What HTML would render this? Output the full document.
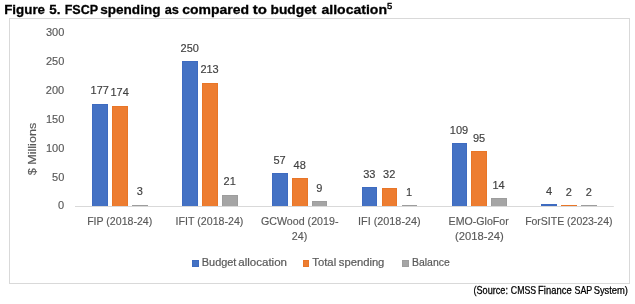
<!DOCTYPE html>
<html><head><meta charset="utf-8"><style>
html,body{margin:0;padding:0;background:#fff;width:635px;height:304px;overflow:hidden;position:relative}
</style></head><body>
<svg width="635" height="304" viewBox="0 0 635 304" style="position:absolute;left:0;top:0;will-change:transform">
<rect x="9.5" y="18.5" width="620" height="265" fill="#FFFFFF" stroke="#D9D9D9" stroke-width="1"/>
<line x1="75.0" y1="206.5" x2="613.80" y2="206.5" stroke="#D9D9D9" stroke-width="1"/>
<rect x="92" y="104" width="16" height="102" fill="#3E6BC0"/>
<rect x="93" y="105" width="14" height="101" fill="#4472C4"/>
<rect x="112" y="106" width="16" height="100" fill="#E87628"/>
<rect x="113" y="107" width="14" height="99" fill="#ED7D31"/>
<rect x="132" y="205" width="16" height="1" fill="#9D9D9D"/>
<rect x="182" y="61" width="16" height="145" fill="#3E6BC0"/>
<rect x="183" y="62" width="14" height="144" fill="#4472C4"/>
<rect x="202" y="83" width="16" height="123" fill="#E87628"/>
<rect x="203" y="84" width="14" height="122" fill="#ED7D31"/>
<rect x="222" y="195" width="16" height="11" fill="#9D9D9D"/>
<rect x="223" y="196" width="14" height="10" fill="#A5A5A5"/>
<rect x="272" y="173" width="16" height="33" fill="#3E6BC0"/>
<rect x="273" y="174" width="14" height="32" fill="#4472C4"/>
<rect x="292" y="178" width="16" height="28" fill="#E87628"/>
<rect x="293" y="179" width="14" height="27" fill="#ED7D31"/>
<rect x="312" y="201" width="15" height="5" fill="#9D9D9D"/>
<rect x="313" y="202" width="13" height="4" fill="#A5A5A5"/>
<rect x="362" y="187" width="15" height="19" fill="#3E6BC0"/>
<rect x="363" y="188" width="13" height="18" fill="#4472C4"/>
<rect x="382" y="188" width="15" height="18" fill="#E87628"/>
<rect x="383" y="189" width="13" height="17" fill="#ED7D31"/>
<rect x="402" y="205" width="15" height="1" fill="#9D9D9D"/>
<rect x="452" y="143" width="15" height="63" fill="#3E6BC0"/>
<rect x="453" y="144" width="13" height="62" fill="#4472C4"/>
<rect x="471" y="151" width="16" height="55" fill="#E87628"/>
<rect x="472" y="152" width="14" height="54" fill="#ED7D31"/>
<rect x="491" y="198" width="16" height="8" fill="#9D9D9D"/>
<rect x="492" y="199" width="14" height="7" fill="#A5A5A5"/>
<rect x="541" y="204" width="16" height="2" fill="#3E6BC0"/>
<rect x="561" y="205" width="16" height="1" fill="#E87628"/>
<rect x="581" y="205" width="16" height="1" fill="#9D9D9D"/>
<rect x="192" y="260" width="7" height="7" fill="#3E6BC0"/>
<rect x="193" y="261" width="5" height="5" fill="#4472C4"/>
<rect x="303" y="260" width="6" height="7" fill="#E87628"/>
<rect x="304" y="261" width="4" height="5" fill="#ED7D31"/>
<rect x="402" y="260" width="7" height="7" fill="#9D9D9D"/>
<rect x="403" y="261" width="5" height="5" fill="#A5A5A5"/>
<text transform="translate(4.144,13.60) scale(0.9917,1)" style='font-family:"Liberation Sans", sans-serif;font-size:13.5px;font-weight:bold;stroke:#000;stroke-width:0.3px' fill="#000">Figure</text>
<text transform="translate(49.356,13.60) scale(0.9950,1)" style='font-family:"Liberation Sans", sans-serif;font-size:13.5px;font-weight:bold;stroke:#000;stroke-width:0.3px' fill="#000">5.</text>
<text transform="translate(64.637,13.60) scale(0.9283,1)" style='font-family:"Liberation Sans", sans-serif;font-size:13.5px;font-weight:bold;stroke:#000;stroke-width:0.3px' fill="#000">FSCP</text>
<text transform="translate(100.163,13.60) scale(1.0063,1)" style='font-family:"Liberation Sans", sans-serif;font-size:13.5px;font-weight:bold;stroke:#000;stroke-width:0.3px' fill="#000">spending</text>
<text transform="translate(164.763,13.60) scale(0.9440,1)" style='font-family:"Liberation Sans", sans-serif;font-size:13.5px;font-weight:bold;stroke:#000;stroke-width:0.3px' fill="#000">as</text>
<text transform="translate(182.137,13.60) scale(1.0365,1)" style='font-family:"Liberation Sans", sans-serif;font-size:13.5px;font-weight:bold;stroke:#000;stroke-width:0.3px' fill="#000">compared</text>
<text transform="translate(252.869,13.60) scale(1.1124,1)" style='font-family:"Liberation Sans", sans-serif;font-size:13.5px;font-weight:bold;stroke:#000;stroke-width:0.3px' fill="#000">to</text>
<text transform="translate(270.494,13.60) scale(1.0221,1)" style='font-family:"Liberation Sans", sans-serif;font-size:13.5px;font-weight:bold;stroke:#000;stroke-width:0.3px' fill="#000">budget</text>
<text transform="translate(321.456,13.60) scale(1.0415,1)" style='font-family:"Liberation Sans", sans-serif;font-size:13.5px;font-weight:bold;stroke:#000;stroke-width:0.3px' fill="#000">allocation</text>
<text transform="translate(387.094,9.00) scale(0.9673,1)" style='font-family:"Liberation Sans", sans-serif;font-size:9.8px;font-weight:normal;stroke:#000;stroke-width:0.45px' fill="#000">5</text>
<text transform="translate(473.456,294.00) scale(0.9129,1)" style='font-family:"Liberation Sans", sans-serif;font-size:10px;font-weight:normal;stroke:#000;stroke-width:0.25px' fill="#000">(Source:</text>
<text transform="translate(510.806,294.00) scale(0.8760,1)" style='font-family:"Liberation Sans", sans-serif;font-size:10px;font-weight:normal;stroke:#000;stroke-width:0.25px' fill="#000">CMSS</text>
<text transform="translate(538.094,294.00) scale(0.9445,1)" style='font-family:"Liberation Sans", sans-serif;font-size:10px;font-weight:normal;stroke:#000;stroke-width:0.25px' fill="#000">Finance</text>
<text transform="translate(574.488,294.00) scale(0.8911,1)" style='font-family:"Liberation Sans", sans-serif;font-size:10px;font-weight:normal;stroke:#000;stroke-width:0.25px' fill="#000">SAP</text>
<text transform="translate(593.650,294.00) scale(0.9360,1)" style='font-family:"Liberation Sans", sans-serif;font-size:10px;font-weight:normal;stroke:#000;stroke-width:0.25px' fill="#000">System)</text>
<text x="58.100" y="209.00" style='font-family:"Liberation Sans", sans-serif;font-size:11px;font-weight:normal;stroke:#595959;stroke-width:0.15px' fill="#595959">0</text>
<text x="52.037" y="181.00" style='font-family:"Liberation Sans", sans-serif;font-size:11px;font-weight:normal;stroke:#595959;stroke-width:0.15px' fill="#595959">50</text>
<text x="45.975" y="152.00" style='font-family:"Liberation Sans", sans-serif;font-size:11px;font-weight:normal;stroke:#595959;stroke-width:0.15px' fill="#595959">100</text>
<text x="45.975" y="123.00" style='font-family:"Liberation Sans", sans-serif;font-size:11px;font-weight:normal;stroke:#595959;stroke-width:0.15px' fill="#595959">150</text>
<text x="45.850" y="94.00" style='font-family:"Liberation Sans", sans-serif;font-size:11px;font-weight:normal;stroke:#595959;stroke-width:0.15px' fill="#595959">200</text>
<text x="45.975" y="65.00" style='font-family:"Liberation Sans", sans-serif;font-size:11px;font-weight:normal;stroke:#595959;stroke-width:0.15px' fill="#595959">250</text>
<text x="45.912" y="36.00" style='font-family:"Liberation Sans", sans-serif;font-size:11px;font-weight:normal;stroke:#595959;stroke-width:0.15px' fill="#595959">300</text>
<text x="90.611" y="94.00" style='font-family:"Liberation Sans", sans-serif;font-size:11px;font-weight:normal;stroke:#404040;stroke-width:0.15px' fill="#404040">177</text>
<text x="110.399" y="96.00" style='font-family:"Liberation Sans", sans-serif;font-size:11px;font-weight:normal;stroke:#404040;stroke-width:0.15px' fill="#404040">174</text>
<text x="136.842" y="195.00" style='font-family:"Liberation Sans", sans-serif;font-size:11px;font-weight:normal;stroke:#404040;stroke-width:0.15px' fill="#404040">3</text>
<text x="180.624" y="52.00" style='font-family:"Liberation Sans", sans-serif;font-size:11px;font-weight:normal;stroke:#404040;stroke-width:0.15px' fill="#404040">250</text>
<text x="200.380" y="73.00" style='font-family:"Liberation Sans", sans-serif;font-size:11px;font-weight:normal;stroke:#404040;stroke-width:0.15px' fill="#404040">213</text>
<text x="223.542" y="185.00" style='font-family:"Liberation Sans", sans-serif;font-size:11px;font-weight:normal;stroke:#404040;stroke-width:0.15px' fill="#404040">21</text>
<text x="273.511" y="164.00" style='font-family:"Liberation Sans", sans-serif;font-size:11px;font-weight:normal;stroke:#404040;stroke-width:0.15px' fill="#404040">57</text>
<text x="293.580" y="169.00" style='font-family:"Liberation Sans", sans-serif;font-size:11px;font-weight:normal;stroke:#404040;stroke-width:0.15px' fill="#404040">48</text>
<text x="316.305" y="192.00" style='font-family:"Liberation Sans", sans-serif;font-size:11px;font-weight:normal;stroke:#404040;stroke-width:0.15px' fill="#404040">9</text>
<text x="363.211" y="178.00" style='font-family:"Liberation Sans", sans-serif;font-size:11px;font-weight:normal;stroke:#404040;stroke-width:0.15px' fill="#404040">33</text>
<text x="383.092" y="178.00" style='font-family:"Liberation Sans", sans-serif;font-size:11px;font-weight:normal;stroke:#404040;stroke-width:0.15px' fill="#404040">32</text>
<text x="405.974" y="196.00" style='font-family:"Liberation Sans", sans-serif;font-size:11px;font-weight:normal;stroke:#404040;stroke-width:0.15px' fill="#404040">1</text>
<text x="449.786" y="134.00" style='font-family:"Liberation Sans", sans-serif;font-size:11px;font-weight:normal;stroke:#404040;stroke-width:0.15px' fill="#404040">109</text>
<text x="472.949" y="142.00" style='font-family:"Liberation Sans", sans-serif;font-size:11px;font-weight:normal;stroke:#404040;stroke-width:0.15px' fill="#404040">95</text>
<text x="492.486" y="189.00" style='font-family:"Liberation Sans", sans-serif;font-size:11px;font-weight:normal;stroke:#404040;stroke-width:0.15px' fill="#404040">14</text>
<text x="545.986" y="195.00" style='font-family:"Liberation Sans", sans-serif;font-size:11px;font-weight:normal;stroke:#404040;stroke-width:0.15px' fill="#404040">4</text>
<text x="565.742" y="196.00" style='font-family:"Liberation Sans", sans-serif;font-size:11px;font-weight:normal;stroke:#404040;stroke-width:0.15px' fill="#404040">2</text>
<text x="585.780" y="196.00" style='font-family:"Liberation Sans", sans-serif;font-size:11px;font-weight:normal;stroke:#404040;stroke-width:0.15px' fill="#404040">2</text>
<text transform="translate(87.131,225.00) scale(1.0092,1)" style='font-family:"Liberation Sans", sans-serif;font-size:10.5px;font-weight:normal;stroke:#595959;stroke-width:0.15px' fill="#595959">FIP (2018-24)</text>
<text transform="translate(175.594,225.00) scale(1.0137,1)" style='font-family:"Liberation Sans", sans-serif;font-size:10.5px;font-weight:normal;stroke:#595959;stroke-width:0.15px' fill="#595959">IFIT (2018-24)</text>
<text transform="translate(260.988,225.00) scale(1.0162,1)" style='font-family:"Liberation Sans", sans-serif;font-size:10.5px;font-weight:normal;stroke:#595959;stroke-width:0.15px' fill="#595959">GCWood (2019-</text>
<text transform="translate(291.812,240.00) scale(1.0192,1)" style='font-family:"Liberation Sans", sans-serif;font-size:10.5px;font-weight:normal;stroke:#595959;stroke-width:0.15px' fill="#595959">24)</text>
<text transform="translate(358.081,225.00) scale(1.0316,1)" style='font-family:"Liberation Sans", sans-serif;font-size:10.5px;font-weight:normal;stroke:#595959;stroke-width:0.15px' fill="#595959">IFI (2018-24)</text>
<text transform="translate(448.612,225.00) scale(1.0126,1)" style='font-family:"Liberation Sans", sans-serif;font-size:10.5px;font-weight:normal;stroke:#595959;stroke-width:0.15px' fill="#595959">EMO-GloFor</text>
<text transform="translate(455.081,240.00) scale(1.0700,1)" style='font-family:"Liberation Sans", sans-serif;font-size:10.5px;font-weight:normal;stroke:#595959;stroke-width:0.15px' fill="#595959">(2018-24)</text>
<text transform="translate(525.131,225.00) scale(0.9993,1)" style='font-family:"Liberation Sans", sans-serif;font-size:10.5px;font-weight:normal;stroke:#595959;stroke-width:0.15px' fill="#595959">ForSITE (2023-24)</text>
<text transform="translate(201.775,266.00) scale(0.9933,1)" style='font-family:"Liberation Sans", sans-serif;font-size:11px;font-weight:normal;stroke:#595959;stroke-width:0.2px' fill="#595959">Budget</text>
<text transform="translate(238.225,266.00) scale(1.0514,1)" style='font-family:"Liberation Sans", sans-serif;font-size:11px;font-weight:normal;stroke:#595959;stroke-width:0.2px' fill="#595959">allocation</text>
<text transform="translate(312.338,266.00) scale(1.0268,1)" style='font-family:"Liberation Sans", sans-serif;font-size:11px;font-weight:normal;stroke:#595959;stroke-width:0.2px' fill="#595959">Total</text>
<text transform="translate(338.794,266.00) scale(1.0216,1)" style='font-family:"Liberation Sans", sans-serif;font-size:11px;font-weight:normal;stroke:#595959;stroke-width:0.2px' fill="#595959">spending</text>
<text transform="translate(412.025,266.00) scale(0.9488,1)" style='font-family:"Liberation Sans", sans-serif;font-size:11px;font-weight:normal;stroke:#595959;stroke-width:0.2px' fill="#595959">Balance</text>
<text transform="translate(36.00,175.262) rotate(-90) scale(1.0952,1)" style='font-family:"Liberation Sans", sans-serif;font-size:11.5px;font-weight:normal;stroke:#595959;stroke-width:0.15px' fill="#595959">$ Millions</text>
</svg>
</body></html>
